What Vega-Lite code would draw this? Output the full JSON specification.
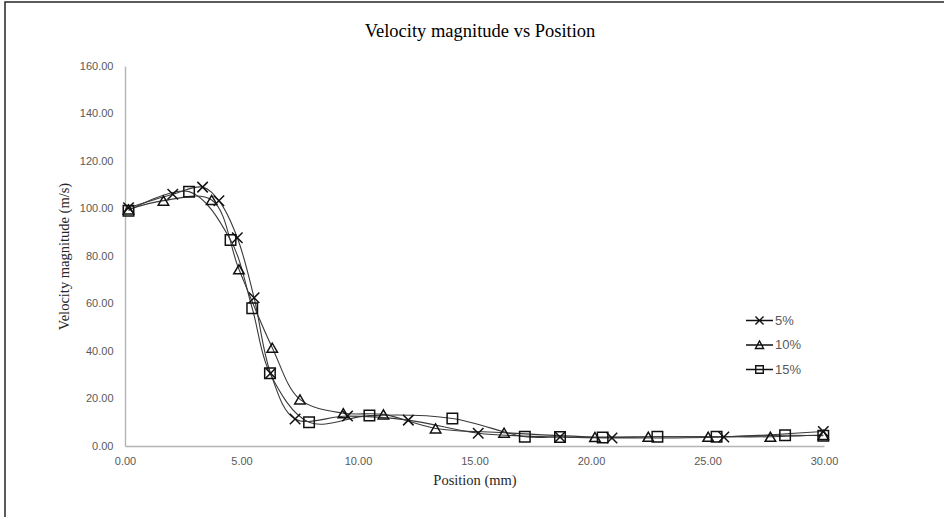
{
  "$schema": "https://vega.github.io/schema/vega-lite/v6.json",
  "width": 950,
  "height": 530,
  "autosize": "none",
  "padding": {"left": 5, "top": 2, "right": 0, "bottom": 0},
  "background": "white",
  "config": {
    "view": {"stroke": "#262626", "strokeWidth": 1.5},
    "axis": {
      "domainColor": "#b4b4b4",
      "domainWidth": 1.4,
      "ticks": false,
      "grid": false,
      "labelFlush": false,
      "labelFont": "Liberation Sans",
      "labelFontSize": 11,
      "labelColor": "#595959",
      "titleFont": "Liberation Serif",
      "titleFontSize": 14.5,
      "titleFontWeight": "normal",
      "titleColor": "#262626"
    }
  },
  "title": {
    "text": "Velocity magnitude vs Position",
    "font": "Liberation Serif",
    "fontSize": 18.5,
    "fontWeight": "normal",
    "color": "#000000",
    "anchor": "middle",
    "frame": "group",
    "offset": -38
  },
  "data": {
    "values": [
      {"series": "5%", "position": 0.15, "velocity": 100.3},
      {"series": "5%", "position": 2.05, "velocity": 106.0},
      {"series": "5%", "position": 3.33, "velocity": 109.0},
      {"series": "5%", "position": 4.03, "velocity": 103.3},
      {"series": "5%", "position": 4.82, "velocity": 87.7},
      {"series": "5%", "position": 5.54, "velocity": 62.4},
      {"series": "5%", "position": 6.25, "velocity": 30.6},
      {"series": "5%", "position": 7.30, "velocity": 11.4},
      {"series": "5%", "position": 9.55, "velocity": 12.6},
      {"series": "5%", "position": 12.16, "velocity": 10.9},
      {"series": "5%", "position": 15.16, "velocity": 5.4},
      {"series": "5%", "position": 18.67, "velocity": 3.8},
      {"series": "5%", "position": 20.9, "velocity": 3.4},
      {"series": "5%", "position": 25.7, "velocity": 3.8},
      {"series": "5%", "position": 29.97, "velocity": 6.1},
      {"series": "10%", "position": 0.15, "velocity": 99.6},
      {"series": "10%", "position": 1.65, "velocity": 103.3},
      {"series": "10%", "position": 3.72, "velocity": 103.6},
      {"series": "10%", "position": 4.89, "velocity": 74.4},
      {"series": "10%", "position": 6.32, "velocity": 41.4},
      {"series": "10%", "position": 7.51, "velocity": 19.6},
      {"series": "10%", "position": 9.37, "velocity": 13.8},
      {"series": "10%", "position": 11.09, "velocity": 13.3},
      {"series": "10%", "position": 13.33, "velocity": 7.4},
      {"series": "10%", "position": 16.27, "velocity": 5.6},
      {"series": "10%", "position": 20.17, "velocity": 3.8},
      {"series": "10%", "position": 22.46, "velocity": 3.9},
      {"series": "10%", "position": 25.03, "velocity": 3.9},
      {"series": "10%", "position": 27.7, "velocity": 3.9},
      {"series": "10%", "position": 29.97, "velocity": 4.6},
      {"series": "15%", "position": 0.15, "velocity": 99.1},
      {"series": "15%", "position": 2.75, "velocity": 107.1},
      {"series": "15%", "position": 4.53, "velocity": 86.7},
      {"series": "15%", "position": 5.46, "velocity": 58.0},
      {"series": "15%", "position": 6.22, "velocity": 30.6},
      {"series": "15%", "position": 7.90, "velocity": 10.0},
      {"series": "15%", "position": 10.49, "velocity": 12.8},
      {"series": "15%", "position": 14.05, "velocity": 11.6},
      {"series": "15%", "position": 17.16, "velocity": 3.9},
      {"series": "15%", "position": 18.67, "velocity": 3.8},
      {"series": "15%", "position": 20.5, "velocity": 3.6},
      {"series": "15%", "position": 22.85, "velocity": 3.9},
      {"series": "15%", "position": 25.39, "velocity": 3.9},
      {"series": "15%", "position": 28.33, "velocity": 4.5},
      {"series": "15%", "position": 29.97, "velocity": 4.3}
    ]
  },
  "encoding": {
    "x": {
      "field": "position",
      "type": "quantitative",
      "title": "Position (mm)",
      "scale": {"domain": [0, 30], "range": [120, 819], "nice": false, "zero": false},
      "axis": {
        "values": [0, 5, 10, 15, 20, 25, 30],
        "format": ".2f",
        "offset": -86,
        "labelPadding": 9,
        "titlePadding": 7
      }
    },
    "y": {
      "field": "velocity",
      "type": "quantitative",
      "title": "Velocity magnitude (m/s)",
      "scale": {"domain": [0, 160], "range": [444, 64], "nice": false},
      "axis": {
        "values": [0, 20, 40, 60, 80, 100, 120, 140, 160],
        "format": ".2f",
        "offset": -120,
        "labelPadding": 12,
        "titlePadding": 8
      }
    }
  },
  "layer": [
    {
      "mark": {"type": "line", "interpolate": "catmull-rom", "color": "#3a3a3a", "strokeWidth": 1.1},
      "encoding": {"detail": {"field": "series"}}
    },
    {
      "mark": {"type": "point", "filled": false, "color": "#111111", "strokeWidth": 1.5, "opacity": 1, "size": 110},
      "encoding": {
        "shape": {
          "field": "series",
          "scale": {
            "domain": ["5%", "10%", "15%"],
            "range": ["M-1,-1L1,1M-1,1L1,-1", "triangle-up", "square"]
          },
          "legend": null
        }
      }
    },
    {
      "mark": {"type": "point", "filled": false, "color": "#111111", "opacity": 0},
      "encoding": {
        "shape": {
          "field": "series",
          "scale": {
            "domain": ["5%", "10%", "15%"],
            "range": [
              "M-1,0H1M-0.3,-0.3L0.3,0.3M-0.3,0.3L0.3,-0.3",
              "M-1,0H1M-0.3,0.26L0,-0.3L0.3,0.26Z",
              "M-1,0H1M-0.28,-0.28H0.28V0.28H-0.28Z"
            ]
          },
          "legend": {
            "title": null,
            "orient": "none",
            "legendX": 740,
            "legendY": 304,
            "symbolSize": 729,
            "symbolOpacity": 1,
            "symbolStrokeColor": "#111111",
            "symbolFillColor": "transparent",
            "symbolStrokeWidth": 1.4,
            "labelFont": "Liberation Sans",
            "labelFontSize": 13,
            "labelColor": "#595959",
            "labelOffset": 1,
            "rowPadding": 2.5
          }
        }
      }
    }
  ],
  "resolve": {"scale": {"shape": "independent"}}
}
